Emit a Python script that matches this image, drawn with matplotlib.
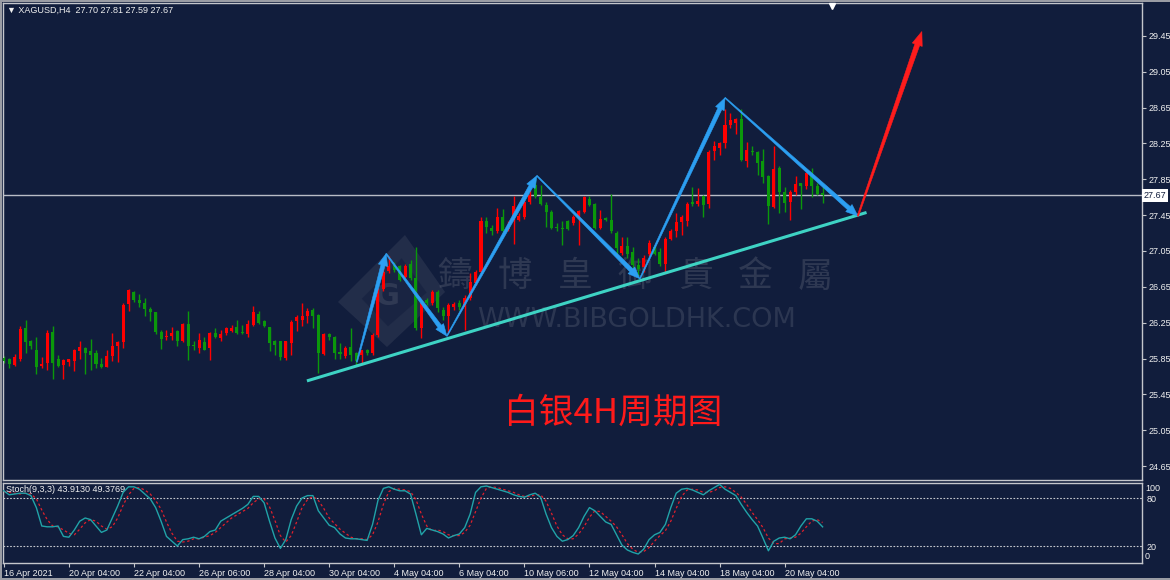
import matplotlib
matplotlib.use("Agg")
import numpy as np
import matplotlib.pyplot as plt
import matplotlib.transforms as mtransforms
from matplotlib.patches import Polygon, Rectangle

# ---------------- data ----------------
symbol = "XAGUSD,H4"
opens = [25.86, 25.84, 25.78, 25.85, 26.19, 26.04, 25.95, 25.77, 25.80, 26.15,
         25.85, 25.78, 25.81, 25.82, 25.93, 25.97, 25.93, 25.91, 25.79, 25.76,
         25.88, 25.99, 26.03, 26.46, 26.59, 26.50, 26.47, 26.40, 26.37, 26.15,
         26.09, 26.10, 26.16, 26.04, 26.24, 26.00, 25.97, 26.03, 25.97, 26.14,
         26.08, 26.13, 26.16, 26.20, 26.14, 26.12, 26.22, 26.35, 26.27, 26.20,
         26.04, 26.04, 25.86, 26.02, 26.27, 26.28, 26.32, 26.39, 26.34, 25.90,
         26.12, 26.09, 25.92, 25.88, 25.98, 25.91, 25.89, 25.95, 25.91, 26.11,
         26.63, 26.83, 26.89, 26.88, 26.76, 26.91, 26.75, 26.19, 26.50, 26.47,
         26.59, 26.39, 26.32, 26.42, 26.47, 26.43, 26.52, 26.69, 26.81, 27.38,
         27.31, 27.27, 27.43, 27.30, 27.40, 27.40, 27.43, 27.60, 27.79, 27.65,
         27.56, 27.49, 27.32, 27.31, 27.38, 27.36, 27.43, 27.48, 27.63, 27.57,
         27.31, 27.42, 27.40, 27.25, 27.03, 27.11, 27.04, 26.89, 26.87, 27.02,
         27.10, 27.04, 26.91, 27.18, 27.27, 27.37, 27.39, 27.60, 27.58, 27.66,
         27.58, 28.17, 28.20, 28.25, 28.46, 28.48, 28.52, 28.06, 28.17, 28.16,
         28.05, 27.89, 27.54, 27.98, 27.71, 27.60, 27.71, 27.81, 27.78, 27.92,
         27.78, 27.70]
highs = [25.88, 25.86, 25.90, 26.21, 26.28, 26.06, 26.09, 25.87, 26.17, 26.21,
         25.89, 25.84, 25.85, 25.96, 26.04, 25.98, 26.07, 25.94, 25.86, 25.95,
         26.14, 26.05, 26.47, 26.63, 26.60, 26.57, 26.52, 26.43, 26.37, 26.17,
         26.17, 26.20, 26.17, 26.25, 26.38, 26.05, 26.13, 26.09, 26.15, 26.19,
         26.17, 26.20, 26.22, 26.28, 26.22, 26.28, 26.44, 26.38, 26.28, 26.20,
         26.06, 26.05, 26.05, 26.28, 26.34, 26.47, 26.41, 26.41, 26.35, 26.14,
         26.13, 26.10, 26.02, 25.99, 26.19, 25.92, 25.95, 25.96, 26.13, 26.64,
         26.86, 26.99, 26.93, 26.89, 26.91, 26.95, 27.10, 26.49, 26.52, 26.61,
         26.62, 26.43, 26.47, 26.48, 26.50, 26.56, 26.80, 26.84, 27.43, 27.43,
         27.34, 27.53, 27.52, 27.38, 27.66, 27.47, 27.66, 27.73, 27.86, 27.79,
         27.60, 27.51, 27.36, 27.38, 27.40, 27.45, 27.51, 27.66, 27.66, 27.59,
         27.51, 27.43, 27.69, 27.27, 27.21, 27.21, 27.10, 26.97, 27.00, 27.17,
         27.12, 27.08, 27.21, 27.29, 27.47, 27.45, 27.60, 27.76, 27.75, 27.68,
         28.18, 28.28, 28.27, 28.64, 28.59, 28.53, 28.64, 28.27, 28.22, 28.17,
         28.19, 27.90, 28.22, 28.00, 27.76, 27.73, 27.89, 27.81, 27.93, 27.98,
         27.81, 27.81]
lows = [25.80, 25.74, 25.77, 25.82, 25.91, 25.96, 25.68, 25.74, 25.72, 25.62,
        25.75, 25.62, 25.77, 25.71, 25.84, 25.68, 25.72, 25.74, 25.74, 25.75,
        25.82, 25.81, 25.97, 26.38, 26.48, 26.42, 26.33, 26.27, 26.12, 25.96,
        26.06, 26.06, 25.99, 26.03, 25.83, 25.94, 25.91, 25.94, 25.83, 26.08,
        26.04, 26.11, 26.15, 26.12, 26.12, 26.09, 26.21, 26.24, 26.20, 25.93,
        25.89, 25.83, 25.83, 25.89, 26.16, 26.21, 26.25, 26.19, 25.69, 25.89,
        26.06, 25.85, 25.85, 25.86, 25.82, 25.78, 25.79, 25.89, 25.89, 26.09,
        26.60, 26.80, 26.82, 26.72, 26.75, 26.73, 26.17, 26.08, 26.45, 26.45,
        26.37, 26.28, 26.13, 26.39, 26.39, 26.17, 26.50, 26.67, 26.78, 27.25,
        27.23, 27.25, 27.25, 27.27, 27.13, 27.38, 27.41, 27.58, 27.64, 27.56,
        27.32, 27.30, 27.27, 27.12, 27.28, 27.34, 27.12, 27.47, 27.55, 27.30,
        27.29, 27.38, 27.25, 27.02, 27.00, 26.97, 26.85, 26.77, 26.82, 26.99,
        27.01, 26.88, 26.80, 27.17, 27.21, 27.23, 27.33, 27.55, 27.55, 27.43,
        27.53, 28.07, 28.12, 28.20, 28.42, 28.36, 28.06, 27.99, 28.12, 27.90,
        27.81, 27.35, 27.53, 27.47, 27.48, 27.40, 27.68, 27.52, 27.74, 27.65,
        27.68, 27.59]
closes = [25.82, 25.79, 25.87, 26.18, 26.03, 25.99, 25.76, 25.79, 26.14, 25.80,
          25.77, 25.83, 25.84, 25.94, 25.98, 25.91, 25.89, 25.79, 25.75, 25.88,
          25.99, 26.03, 26.45, 26.61, 26.50, 26.47, 26.40, 26.37, 26.15, 26.07,
          26.10, 26.14, 26.05, 26.24, 25.99, 25.99, 26.06, 25.95, 26.13, 26.09,
          26.12, 26.19, 26.19, 26.13, 26.13, 26.24, 26.37, 26.25, 26.21, 26.02,
          26.00, 25.87, 26.04, 26.26, 26.31, 26.33, 26.38, 26.33, 25.91, 26.12,
          26.09, 25.91, 25.90, 25.97, 25.89, 25.82, 25.94, 25.91, 26.11, 26.62,
          26.82, 26.88, 26.84, 26.73, 26.88, 26.75, 26.19, 26.47, 26.47, 26.59,
          26.41, 26.32, 26.45, 26.46, 26.42, 26.52, 26.70, 26.81, 27.38, 27.32,
          27.27, 27.43, 27.27, 27.34, 27.55, 27.44, 27.60, 27.68, 27.66, 27.58,
          27.49, 27.31, 27.31, 27.30, 27.30, 27.43, 27.50, 27.65, 27.56, 27.31,
          27.41, 27.40, 27.27, 27.08, 27.11, 27.02, 26.89, 26.85, 26.97, 27.14,
          27.02, 26.91, 27.18, 27.27, 27.37, 27.43, 27.58, 27.58, 27.61, 27.56,
          28.16, 28.22, 28.25, 28.46, 28.51, 28.52, 28.07, 28.18, 28.15, 28.03,
          27.88, 27.55, 27.97, 27.71, 27.59, 27.71, 27.80, 27.78, 27.92, 27.78,
          27.69, 27.67]

stoch_main = [89, 84, 85, 86, 86, 83, 68, 45, 44, 44,
              45, 32, 31, 40, 51, 55, 53, 45, 37, 40,
              55, 70, 87, 94, 94, 91, 85, 79, 68, 51,
              32, 26, 20, 28, 29, 31, 29, 32, 38, 40,
              51, 55, 59, 63, 67, 72, 82, 82, 74, 51,
              30, 17, 28, 53, 70, 80, 83, 83, 64, 55,
              46, 43, 35, 30, 29, 29, 28, 27, 47, 77,
              92, 94, 91, 89, 89, 85, 60, 34, 42, 40,
              38, 35, 30, 33, 35, 43, 60, 87, 94, 95,
              93, 91, 89, 87, 84, 82, 81, 84, 86, 81,
              60, 43, 32, 26, 28, 33, 43, 57, 68, 64,
              57, 50, 47, 34, 21, 15, 12, 10, 16, 28,
              34, 37, 47, 68, 86, 91, 92, 90, 87, 84,
              89, 93, 97, 91, 87, 83, 72, 62, 53, 45,
              30, 14, 26, 30, 31, 29, 34, 45, 54, 54,
              51, 43.9130]
stoch_signal = [88, 87, 86, 85, 86, 85, 79, 65, 53, 45,
                44, 40, 36, 34, 41, 49, 53, 51, 45, 41,
                44, 55, 71, 84, 92, 93, 90, 85, 77, 66,
                50, 36, 26, 25, 26, 29, 29, 31, 33, 37,
                43, 49, 55, 59, 63, 67, 74, 79, 79, 69,
                52, 33, 25, 33, 50, 68, 78, 82, 77, 67,
                55, 48, 41, 36, 31, 29, 29, 28, 34, 50,
                72, 88, 92, 91, 90, 88, 78, 60, 45, 39,
                40, 38, 34, 33, 33, 37, 46, 63, 80, 92,
                94, 93, 91, 89, 87, 84, 82, 82, 84, 84,
                76, 61, 45, 34, 29, 29, 35, 44, 56, 64,
                63, 57, 51, 44, 34, 23, 16, 12, 13, 18,
                26, 33, 39, 51, 67, 82, 90, 91, 90, 87,
                87, 89, 93, 94, 92, 87, 81, 72, 62, 53,
                43, 30, 23, 23, 29, 30, 31, 36, 44, 51,
                53, 49.3769]
stoch_params = "Stoch(9,3,3)"

price_ticks = [24.65, 25.05, 25.45, 25.85, 26.25, 26.65, 27.05, 27.45,
               27.85, 28.25, 28.65, 29.05, 29.45]
date_tick_bars = [0, 12, 24, 36, 48, 60, 72, 84, 96, 108, 120, 132, 144]
date_labels = ["16 Apr 2021", "20 Apr 04:00", "22 Apr 04:00", "26 Apr 06:00",
               "28 Apr 04:00", "30 Apr 04:00", "4 May 04:00", "6 May 04:00",
               "10 May 06:00", "12 May 04:00", "14 May 04:00", "18 May 04:00",
               "20 May 04:00"]
current_price = 27.67

# drawn objects (bar index, price)
zigzag_x = [65.1, 70.5, 81.7, 98.3, 117.3, 133.0, 157.5]
zigzag_y = [25.81, 27.02, 26.10, 27.89, 26.74, 28.76, 27.44]
target_x = [157.5, 169.3]
target_y = [27.44, 29.50]
trend_x = [55.9, 159.1]
trend_y = [25.60, 27.48]

title_cn = "白银4H周期图"
wm_chars = ["鑄", "博", "皇", "御", "貴", "金", "屬"]
wm_url = "WWW.BIBGOLDHK.COM"

# ---------------- style ----------------
BG = "#111d3c"
FRAME = "#c4c6cc"
TXT = "#f0f0f0"
UP = "#ff0000"
DOWN = "#0b980b"
BLUE = "#2c9ff2"
plt.rcParams["font.family"] = ["Liberation Sans", "DejaVu Sans"]

W, H = 1170, 580
fig = plt.figure(figsize=(W / 100, H / 100), dpi=100, facecolor=BG)
ax = fig.add_axes([3 / W, 100 / H, 1139 / W, 477 / H], facecolor=BG)
ax2 = fig.add_axes([3 / W, 17 / H, 1139 / W, 80 / H], facecolor=BG, sharex=ax)

# outer window frame
for rect in ([0, 0, 2 / W, 1], [0, 1 - 2 / H, 1, 2 / H], [0, 0, 1, 2 / H]):
    fig.add_artist(Rectangle(rect[:2], rect[2], rect[3], transform=fig.transFigure,
                             fc="#9a9ca4", ec="none"))

n = len(closes)
xs = list(range(n))

# candles
cols = [UP if c >= o else DOWN for o, c in zip(opens, closes)]
ax.vlines(xs, lows, highs, colors=cols, linewidth=1.0, zorder=2)
bottoms = [min(o, c) for o, c in zip(opens, closes)]
heights = [max(abs(c - o), 0.012) for o, c in zip(opens, closes)]
ax.bar(xs, heights, bottom=bottoms, width=0.56, color=cols, linewidth=0, zorder=3)

ax.set_xlim(-0.15, 209.9)
ax.set_ylim(24.494, 29.818)

# current price line
ax.axhline(current_price, color="#b9bcc6", lw=1.0, zorder=1)

# watermark
wm_col = "#8c8f9c"
logo_outer = [(0.2941, 0.3732), (0.3529, 0.5136), (0.3881, 0.3941), (0.3371, 0.2788)]
logo_inner = [(0.3150, 0.3800), (0.3500, 0.4650), (0.3720, 0.3930), (0.3380, 0.3220)]
ax.add_patch(Polygon(logo_outer, closed=True, transform=ax.transAxes,
                     fc=wm_col, ec="none", alpha=0.14, zorder=1))
ax.add_patch(Polygon(logo_inner, closed=True, transform=ax.transAxes,
                     fc=BG, ec="none", alpha=0.5, zorder=1))
ax.text(0.3375, 0.385, "G", transform=ax.transAxes, ha="center", va="center",
        fontsize=22, fontweight="bold", color=wm_col, alpha=0.2, zorder=1,
        family=["DejaVu Sans"])
for k, ch in enumerate(wm_chars):
    ax.text((455 + 60 * k - 3) / 1139, 0.4256, ch, transform=ax.transAxes,
            ha="center", va="center", fontsize=25, color=wm_col, alpha=0.24,
            family=["Noto Sans CJK TC", "DejaVu Sans"], zorder=1)
ax.text(0.5566, 0.3354, wm_url, transform=ax.transAxes, ha="center", va="center",
        fontsize=19.5, color=wm_col, alpha=0.22, family=["DejaVu Sans"], zorder=1)

# trendline
ax.plot(trend_x, trend_y, color="#3ed3c4", lw=2.2, solid_capstyle="butt", zorder=4)

# tapered arrows, built in pixel space from the data end points
def arrow(x0, y0, x1, y1, color, w0, w1, hw, hl):
    p0 = ax.transData.transform((x0, y0))
    p1 = ax.transData.transform((x1, y1))
    d = p1 - p0
    L = np.hypot(*d)
    u = d / L
    nv = np.array([-u[1], u[0]])
    base = p1 - u * hl
    pts = [p0 + nv * w0 / 2, base + nv * w1 / 2, base + nv * hw / 2, p1,
           base - nv * hw / 2, base - nv * w1 / 2, p0 - nv * w0 / 2]
    ax.add_patch(Polygon(pts, closed=True, transform=mtransforms.IdentityTransform(),
                         fc=color, ec=color, lw=0.4, zorder=5))

for i in range(len(zigzag_x) - 1):
    arrow(zigzag_x[i], zigzag_y[i], zigzag_x[i + 1], zigzag_y[i + 1], BLUE,
          1.0, 4.2, 9.5, 12)
arrow(target_x[0], target_y[0], target_x[1], target_y[1], "#ff1c1c",
      1.4, 5.0, 10.5, 14)

# red caption
ax.text(112.3, 25.24, title_cn, ha="center", va="center", fontsize=25,
        color="#ff1a1a", family=["Noto Sans CJK SC", "DejaVu Sans"], zorder=6)

# header
ax.text(0.0035, 0.985, "\u25BC " + f"{symbol}  {opens[-1]:.2f} {highs[-1]:.2f} {lows[-1]:.2f} {closes[-1]:.2f}",
        transform=ax.transAxes, ha="left", va="center", fontsize=6.5, color=TXT)
ax.plot([n + 0.7], [ax.get_ylim()[1] - 0.03], marker="v", ms=4, color="white",
        clip_on=False, zorder=7)

# price axis
ax.set_yticks(price_ticks)
ax.set_yticklabels([f"{p:.2f}" for p in price_ticks])
ax.yaxis.tick_right()
ax.tick_params(axis="y", direction="out", length=3, width=0.8, color=FRAME,
               labelcolor=TXT, labelsize=6.5, pad=2)
ax.tick_params(axis="x", bottom=False, labelbottom=False)
trans = mtransforms.blended_transform_factory(ax.transAxes, ax.transData)
ax.text(1.0015, current_price, f"{current_price:.2f}", transform=trans,
        ha="left", va="center", fontsize=6.5, color=BG,
        bbox=dict(boxstyle="square,pad=0.18", fc="white", ec="none"))

# stochastic panel
ax2.plot(xs, stoch_signal, color="#e0202c", lw=0.9, ls=(0, (2, 2)), zorder=3)
ax2.plot(xs, stoch_main, color="#21a3a8", lw=1.0, zorder=4)
for lvl in (20, 80):
    ax2.axhline(lvl, color="#c8cad0", lw=0.8, ls=(0, (1.5, 1.5)), zorder=1)
ax2.set_ylim(-1.25, 98.75)
ax2.set_yticks([20, 80])
ax2.set_yticklabels(["20", "80"])
ax2.yaxis.tick_right()
ax2.tick_params(axis="y", direction="out", length=0, labelcolor=TXT,
                labelsize=6.5, pad=3)
ax2.text(1.0025, 0.985, "100", transform=ax2.transAxes, ha="left", va="top",
         fontsize=6.5, color=TXT)
ax2.text(1.0025, 0.02, "0", transform=ax2.transAxes, ha="left", va="bottom",
         fontsize=6.5, color=TXT)
ax2.text(0.003, 0.92, f"{stoch_params} {stoch_main[-1]:.4f} {stoch_signal[-1]:.4f}",
         transform=ax2.transAxes, ha="left", va="center", fontsize=6.5, color=TXT)

ax2.set_xticks(date_tick_bars)
ax2.set_xticklabels(date_labels)
ax2.tick_params(axis="x", direction="out", length=3, width=0.8, color=FRAME,
                labelcolor=TXT, labelsize=6.5, pad=1.5)
for lab in ax2.get_xticklabels():
    lab.set_horizontalalignment("left")

for a in (ax, ax2):
    for s in a.spines.values():
        s.set_color(FRAME)
        s.set_linewidth(1.0)

fig.savefig("out.png", dpi=100, facecolor=BG)
